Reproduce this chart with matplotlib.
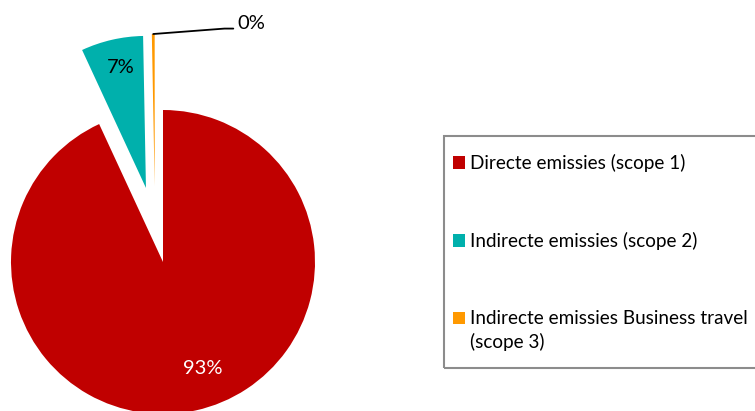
import numpy as np
import matplotlib.pyplot as plt
from matplotlib.patches import Patch, Rectangle
from matplotlib.legend_handler import HandlerPatch

# Emission shares (percent) per scope
categories = ["Directe emissies (scope 1)",
              "Indirecte emissies (scope 2)",
              "Indirecte emissies Business travel\n(scope 3)"]
shares = [93.1, 6.6, 0.3]
pct_labels = ["93%", "7%", "0%"]
colors = ["#C00000", "#00B0AC", "#FF9900"]

plt.rcParams["font.family"] = ["Lato", "DejaVu Sans"]

fig = plt.figure(figsize=(7.55, 4.11), dpi=100)
ax = fig.add_axes([11 / 755, -3 / 411, 304 / 755, 304 / 411])

wedges, _ = ax.pie(shares, colors=colors, startangle=90, counterclock=False,
                   explode=[0, 0.5, 0.5], wedgeprops=dict(linewidth=0))
for w in wedges:
    w.set_clip_on(False)
ax.set_xlim(-1, 1)
ax.set_ylim(-1, 1)
ax.axis("off")

# the tiny scope 3 slice sits a little left of the top in the original
shift = 0.05
small = wedges[2]
cx, cy = small.center
small.set_center((cx - shift, cy))
mid = np.deg2rad((small.theta1 + small.theta2) / 2)
tip = (cx - shift + small.r * np.cos(mid), cy + small.r * np.sin(mid))

# data labels
ax.text(0.26, -0.70, pct_labels[0], color="white", fontsize=14.5,
        ha="center", va="center")
ax.text(-0.28, 1.28, pct_labels[1], color="black", fontsize=14.5,
        ha="center", va="center")
ax.annotate(pct_labels[2], xy=tip, xytext=(0.49, 1.533),
            fontsize=14.5, ha="left", va="baseline", annotation_clip=False,
            arrowprops=dict(arrowstyle="-", color="black", lw=1.3,
                            shrinkA=1, shrinkB=0, relpos=(0, 0.2),
                            connectionstyle="arc,angleA=180,armA=13,angleB=0,armB=0,rad=0"))


# keep the legend square level with the first line of a two-line label
def top_patch(legend, orig_handle, xdescent, ydescent, width, height, fontsize):
    return Rectangle((-xdescent, -ydescent + 0.68 * fontsize), width, height)


fs = 13.6
handles = [Patch(facecolor=c, edgecolor="none") for c in colors]
leg = fig.legend(handles, categories, loc="upper left",
                 bbox_to_anchor=(453 / 755, 1 - 154 / 411), borderaxespad=0,
                 frameon=False, handlelength=0.63, handleheight=0.63,
                 handletextpad=0.26, labelspacing=3.18, borderpad=0,
                 fontsize=fs,
                 handler_map={handles[2]: HandlerPatch(patch_func=top_patch)})
for t in leg.get_texts():
    t.set_linespacing(1.36)

# legend border (runs past the right edge, as in the original)
fig.patches.append(Rectangle((444 / 755, 1 - 368 / 411), 330 / 755, 232 / 411,
                             transform=fig.transFigure, fill=False,
                             edgecolor="#8c8c8c", linewidth=1.5))

plt.savefig("out.png", dpi=100)
